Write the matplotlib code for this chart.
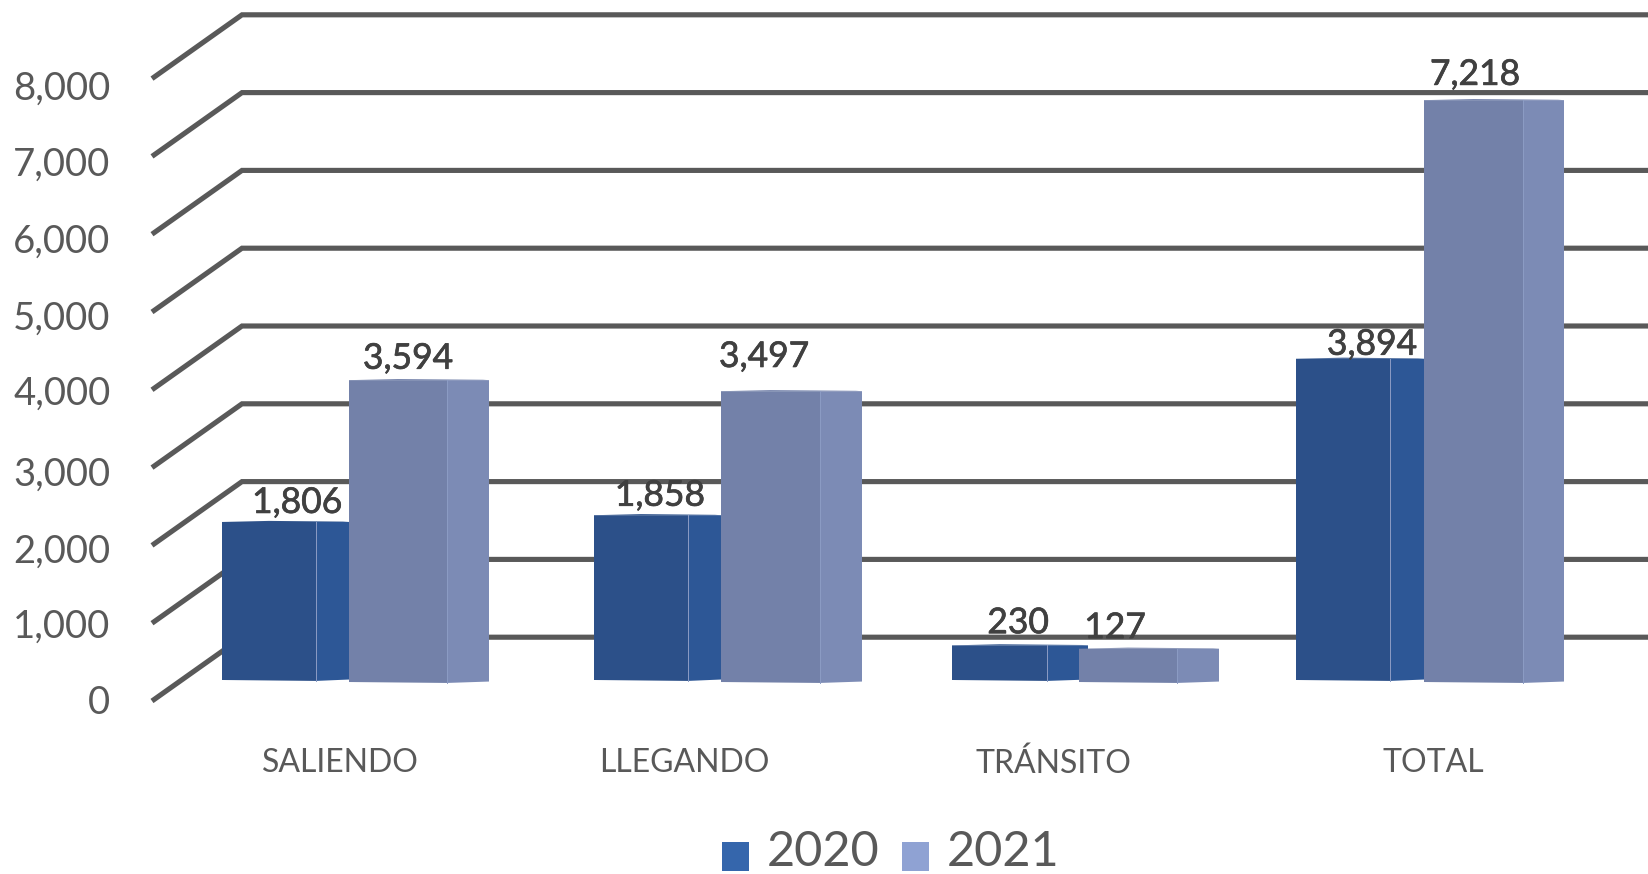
"""Redraw of the 2020 / 2021 passenger bars with the fake 3D look."""
import matplotlib
matplotlib.use("Agg")
import matplotlib.patheffects as pe
import matplotlib.pyplot as plt
from matplotlib.patches import Patch, Polygon
from matplotlib.transforms import ScaledTranslation

categories = ["SALIENDO", "LLEGANDO", "TRÁNSITO", "TOTAL"]
values_2020 = [1806, 1858, 230, 3894]
values_2021 = [3594, 3497, 127, 7218]
y_ticks = [0, 1000, 2000, 3000, 4000, 5000, 6000, 7000, 8000]
series_names = ["2020", "2021"]

W, H = 1648, 874
PX_PER_UNIT = 0.0778       # vertical pixels per value unit
AX_BOTTOM, AX_TOP, AX_LEFT = 701.0, 15.8, 152.0
DEPTH_X, DEPTH_RISE = 90.0, 820.0   # wall offset: pixels, value units
TOP_SHIFT = 520.0          # bar tops sit this far above the front wall value

GRID = "#595959"
TEXT = "#595959"
LABEL = "#404040"
FRONT = {"2020": "#2C5089", "2021": "#7381A9"}
SIDE = {"2020": "#2D5796", "2021": "#7C8BB5"}
LEGEND = {"2020": "#3566AC", "2021": "#8FA2D3"}

# x geometry per bar, in pixels: left edge, front/side seam, right edge
GEOM_2020 = [(222, 316, 349), (594, 688, 721), (952, 1047, 1088), (1296, 1390, 1424)]
GEOM_2021 = [(349, 447, 489), (721, 820, 862), (1079, 1177, 1219), (1424, 1523, 1564)]
BASE = {"2020": 270.0, "2021": 244.0}
CAT_X = [340, 684, 1053, 1433]

# the source picture is slightly warped, these nudge tops and labels back
TOP_NUDGE_2020 = [-25, 10, -35, -15]
TOP_NUDGE_2021 = [10, -35, 25, -15]
LABEL_X_2020 = [297, 660, 1018, 1372]
LABEL_X_2021 = [408, 764, 1115, 1475]
LABEL_GAP_2020 = [245, 250, 285, 180]
LABEL_GAP_2021 = [275, 440, 265, 325]
TICK_NUDGE_PX = [-1, 0, 3, 4, 0, 3, 4, 5, 7]


def draw_bar(ax, geom, value, nudge, base, name, z):
    left, seam, right = geom
    top = value + TOP_SHIFT + nudge
    ax.add_patch(Polygon([(left, base), (seam, base - 12), (seam, top), (left, top)],
                         fc=FRONT[name], ec="none", zorder=z))
    ax.add_patch(Polygon([(seam, base - 12), (right, base + 6), (right, top), (seam, top)],
                         fc=SIDE[name], ec="none", zorder=z))
    ax.plot([seam, seam], [base - 12, top], color="#8C9CC4", lw=0.7, zorder=z + 0.1)
    # thin sliver of the top face
    ax.add_patch(Polygon([(left, top), ((left + seam) / 2, top + 14), (right - 6, top + 5), (right, top)],
                         fc=FRONT[name], ec="none", zorder=z))


def main():
    plt.rcParams["font.family"] = ["Lato", "DejaVu Sans"]
    fig = plt.figure(figsize=(W / 100, H / 100), dpi=100, facecolor="white")
    ax = fig.add_axes([AX_LEFT / W, 1 - AX_BOTTOM / H, (W - AX_LEFT) / W, (AX_BOTTOM - AX_TOP) / H])
    ax.set_xlim(AX_LEFT, W)
    ax.set_ylim(0, (AX_BOTTOM - AX_TOP) / PX_PER_UNIT)
    for s in ax.spines.values():
        s.set_visible(False)

    for v in y_ticks:
        ax.plot([AX_LEFT, AX_LEFT + DEPTH_X, W], [v, v + DEPTH_RISE, v + DEPTH_RISE],
                color=GRID, lw=3.7, solid_joinstyle="miter", solid_capstyle="butt",
                clip_on=False, zorder=1)

    for geom, v, n in zip(GEOM_2020, values_2020, TOP_NUDGE_2020):
        draw_bar(ax, geom, v, n, BASE["2020"], "2020", 3)
    for geom, v, n in zip(GEOM_2021, values_2021, TOP_NUDGE_2021):
        draw_bar(ax, geom, v, n, BASE["2021"], "2021", 4)

    for xs, vals, gaps, nudges in ((LABEL_X_2020, values_2020, LABEL_GAP_2020, TOP_NUDGE_2020),
                                   (LABEL_X_2021, values_2021, LABEL_GAP_2021, TOP_NUDGE_2021)):
        for x, v, gap, n in zip(xs, vals, gaps, nudges):
            ax.text(x, v + TOP_SHIFT + n + gap, f"{v:,}", ha="center", va="center",
                    fontsize=25.5, color=LABEL, zorder=6,
                    path_effects=[pe.withStroke(linewidth=0.5, foreground=LABEL)])

    ax.set_yticks(y_ticks, [f"{v:,}" for v in y_ticks])
    ax.tick_params(axis="y", length=0, pad=30, labelsize=27.5, labelcolor=TEXT)
    for lab, px in zip(ax.get_yticklabels(), TICK_NUDGE_PX):
        lab.set_transform(lab.get_transform() + ScaledTranslation(0, -px / 100, fig.dpi_scale_trans))

    ax.set_xticks(CAT_X, categories)
    ax.tick_params(axis="x", length=0, pad=34, labelsize=23, labelcolor=TEXT)

    handles = [Patch(fc=LEGEND[n], ec="none", label=n) for n in series_names]
    leg = fig.legend(handles=handles, ncol=2, loc="lower left", bbox_to_anchor=(722 / W, 0.0),
                     frameon=False, fontsize=35, labelcolor=TEXT, borderpad=0, borderaxespad=0,
                     handlelength=0.55, handleheight=0.55, handletextpad=0.38, columnspacing=0.45)
    for h in leg.legend_handles:
        h.set_y(h.get_y() - 5.5)
    leg.set_zorder(10)

    fig.savefig("out.png", dpi=100, facecolor="white")


if __name__ == "__main__":
    main()
